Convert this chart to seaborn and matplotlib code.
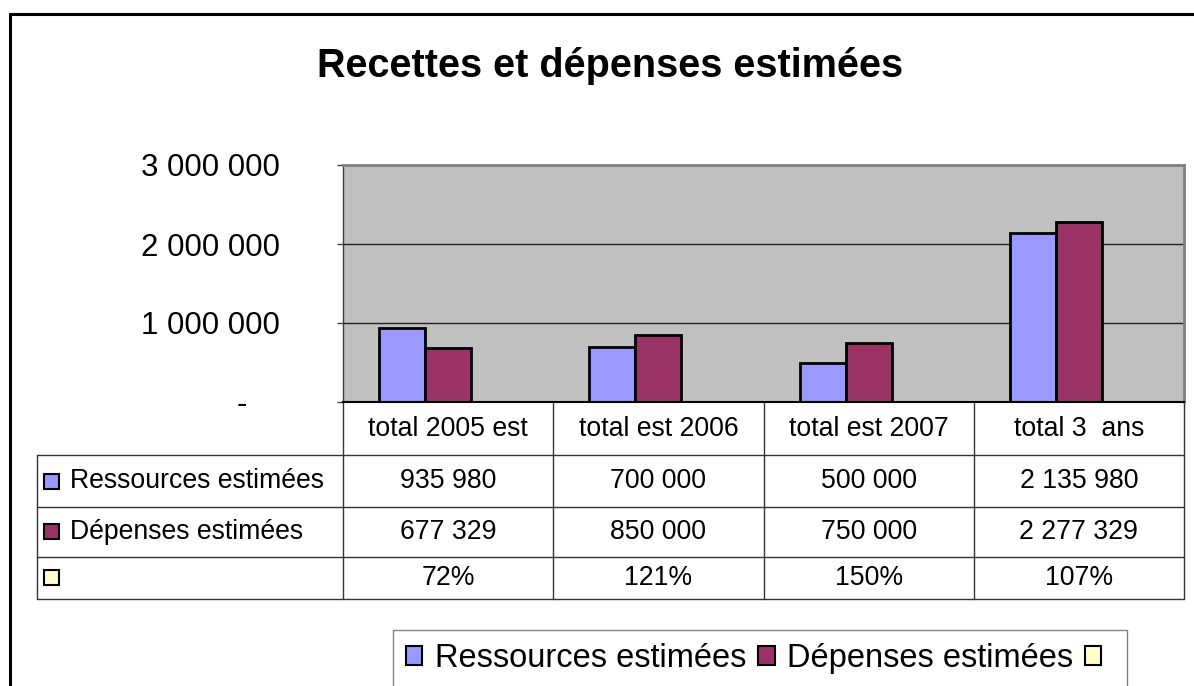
import matplotlib
matplotlib.use("Agg")
import matplotlib.pyplot as plt
import matplotlib.transforms as mtransforms
from matplotlib.patches import Patch, Rectangle
from matplotlib.lines import Line2D
import pandas as pd
import seaborn as sns


# Data
categories = ["total 2005 est", "total est 2006", "total est 2007", "total 3  ans"]
ressources = [935980, 700000, 500000, 2135980]
depenses = [677329, 850000, 750000, 2277329]
ratio_pct = [72, 121, 150, 107]

series_keys = ["Ressources estimées", "Dépenses estimées", "ratio"]
series_labels = ["Ressources estimées", "Dépenses estimées", ""]
series_colors = ["#9999FF", "#993366", "#FFFFCC"]

y_ticks = [0, 1000000, 2000000, 3000000]
y_tick_labels = ["-", "1 000 000", "2 000 000", "3 000 000"]
title = "Recettes et dépenses estimées"


def fmt_num(v):
    return f"{v:,}".replace(",", " ")


sns.set_style("white")
plt.rcParams["font.family"] = ["Liberation Sans", "DejaVu Sans"]
plt.rcParams["text.color"] = "black"
plt.rcParams["ytick.labelcolor"] = "black"

df = pd.DataFrame({
    "categorie": categories * 3,
    "serie": [series_keys[0]] * 4 + [series_keys[1]] * 4 + [series_keys[2]] * 4,
    "valeur": ressources + depenses + [p / 100 for p in ratio_pct],
})

fig = plt.figure(figsize=(11.94, 6.86), dpi=100)
W, H = 1194, 686
ax = fig.add_axes([343 / W, 1 - 402 / H, (1184 - 343) / W, (402 - 165) / H])

sns.barplot(data=df, x="categorie", y="valeur", hue="serie",
            order=categories, hue_order=series_keys,
            palette=dict(zip(series_keys, series_colors)),
            width=0.656, saturation=1, edgecolor="black", linewidth=2,
            errorbar=None, legend=False, ax=ax)

ax.set_facecolor("#C0C0C0")
ax.set_xlim(-0.5, 3.5)
ax.set_ylim(0, 3000000)
ax.set_xticks([])
ax.set_xlabel("")
ax.set_ylabel("")
ax.set_yticks(y_ticks)
ax.set_yticklabels(y_tick_labels)
ax.tick_params(axis="y", direction="out", left=True, length=4.3, width=1,
               color="#404040", pad=41, labelsize=22.5, labelcolor="black")
ax.set_axisbelow(True)
ax.yaxis.grid(True, color="#222222", linewidth=1)

for side in ["top", "right"]:
    ax.spines[side].set_color("#808080")
    ax.spines[side].set_linewidth(2)
ax.spines["left"].set_color("#404040")
ax.spines["left"].set_linewidth(1)
ax.spines["bottom"].set_color("black")
ax.spines["bottom"].set_linewidth(1.5)

# the "-" label sits further left than the others
zero_lbl = ax.get_yticklabels()[0]
zero_lbl.set_transform(zero_lbl.get_transform()
                       + mtransforms.ScaledTranslation(-0.33, 0, fig.dpi_scale_trans))

# data table under the plot
tr = ax.get_xaxis_transform()
label_left = -1.955
row_lines = [-0.224, -0.443, -0.654, -0.831]
row_mid = [-0.112, -0.3335, -0.5485, -0.7425]
line_kw = dict(color="#333333", linewidth=1, transform=tr, clip_on=False)
tfs = 19.2

for x in [-0.5, 0.5, 1.5, 2.5, 3.5]:
    ax.add_line(Line2D([x, x], [0, row_lines[-1]], **line_kw))
ax.add_line(Line2D([label_left, label_left], [row_lines[0], row_lines[-1]], **line_kw))
for y in row_lines:
    ax.add_line(Line2D([label_left, 3.5], [y, y], **line_kw))

for i, cat in enumerate(categories):
    ax.text(i, row_mid[0], cat, transform=tr, ha="center", va="center",
            fontsize=tfs, clip_on=False)
    ax.text(i, row_mid[1], fmt_num(ressources[i]), transform=tr, ha="center",
            va="center", fontsize=tfs, clip_on=False)
    ax.text(i, row_mid[2], fmt_num(depenses[i]), transform=tr, ha="center",
            va="center", fontsize=tfs, clip_on=False)
    ax.text(i, row_mid[3], f"{ratio_pct[i]}%", transform=tr, ha="center",
            va="center", fontsize=tfs, clip_on=False)

sw_w = 15 / 210.25
sw_h = 15 / 237
for j in range(3):
    ax.add_patch(Rectangle((label_left + 7 / 210.25, row_mid[j + 1] - sw_h / 2), sw_w, sw_h,
                           facecolor=series_colors[j], edgecolor="black", linewidth=1.5,
                           transform=tr, clip_on=False))
    ax.text(label_left + 33 / 210.25, row_mid[j + 1], series_labels[j], transform=tr,
            ha="left", va="center", fontsize=tfs, clip_on=False)

# title
fig.text(610 / W, 1 - 77 / H, title, ha="center", va="baseline",
         fontsize=28.5, fontweight="bold")

# legend
handles = [Patch(facecolor=c, edgecolor="black", linewidth=1.5) for c in series_colors]
fig.legend(handles, series_labels, loc="upper left",
           bbox_to_anchor=(393 / W, 1 - 630 / H), ncol=3, fontsize=23.5,
           frameon=True, fancybox=False, edgecolor="#808080", framealpha=1,
           borderpad=0.4, handlelength=0.5, handleheight=0.5,
           handletextpad=0.38, columnspacing=0.37, borderaxespad=0)

# outer chart frame
fig.add_artist(Line2D([10 / W, 10 / W], [1 - 13.5 / H, -0.05], color="black",
                      linewidth=2.2, transform=fig.transFigure))
fig.add_artist(Line2D([10 / W, 1.05], [1 - 13.5 / H, 1 - 13.5 / H], color="black",
                      linewidth=2.2, transform=fig.transFigure))

fig.savefig("out.png", dpi=100)
